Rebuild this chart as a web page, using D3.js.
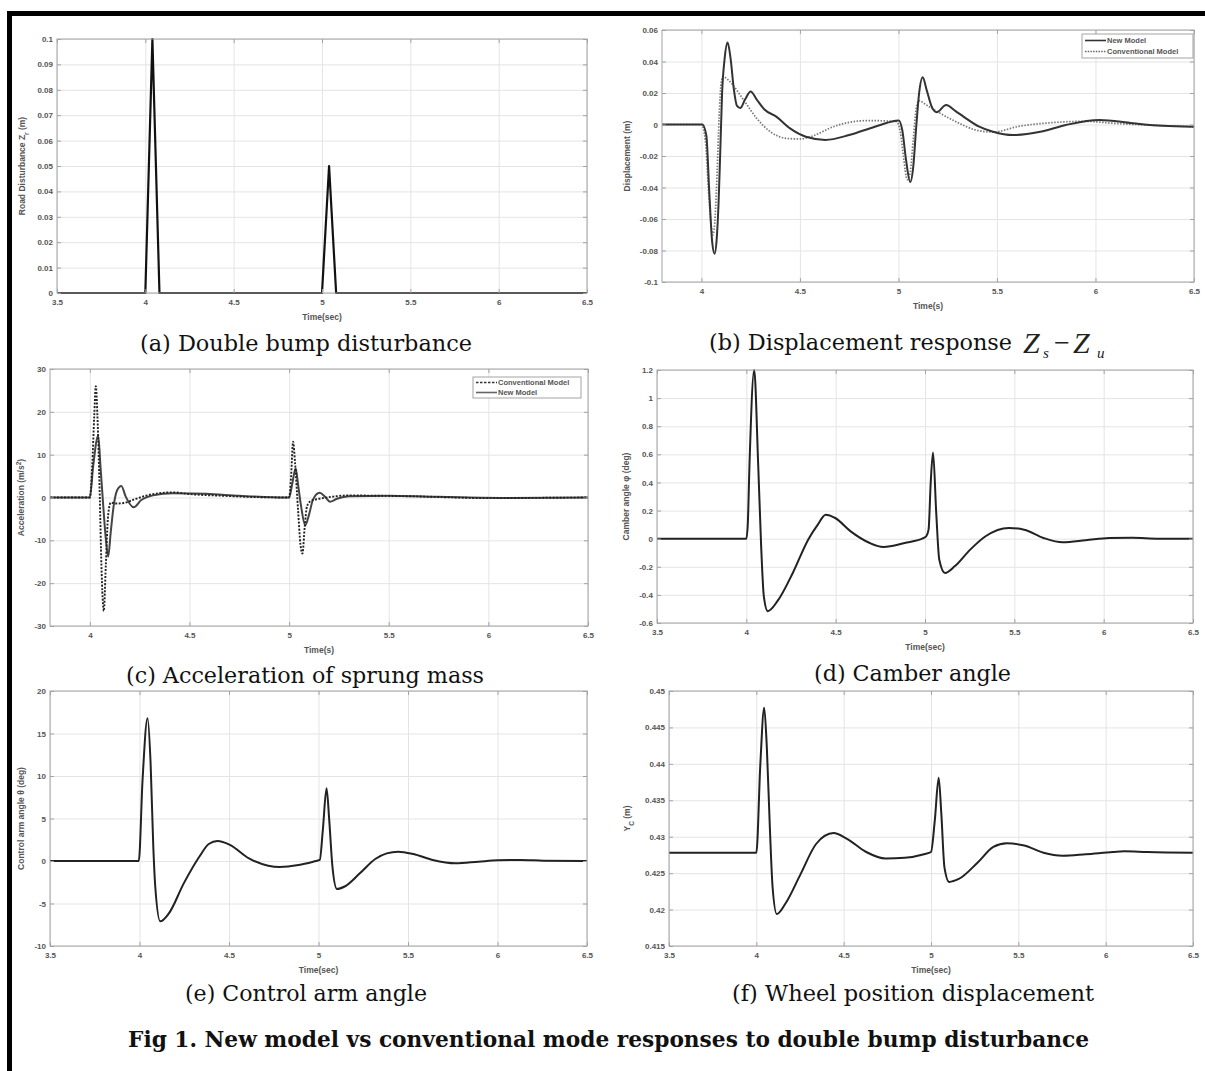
<!DOCTYPE html>
<html><head><meta charset="utf-8">
<script src="https://cdn.jsdelivr.net/npm/d3@7"></script>
<style>body{margin:0;background:#fff}svg{display:block}</style>
</head><body>
<svg id="fig" width="1205" height="1071"></svg>
<script>
// ---------------- DATA ----------------
const xTicks35 = [3.5, 4, 4.5, 5, 5.5, 6, 6.5];
const xTickLabels35 = ["3.5", "4", "4.5", "5", "5.5", "6", "6.5"];
const xTicks4 = [4, 4.5, 5, 5.5, 6, 6.5];
const xTickLabels4 = ["4", "4.5", "5", "5.5", "6", "6.5"];

// (a) road disturbance
const roadT = [3.5, 4.0, 4.04, 4.08, 5.0, 5.04, 5.08, 6.5];
const roadV = [0, 0, 0.1, 0, 0, 0.05, 0, 0];
const aYTicks = [0, 0.01, 0.02, 0.03, 0.04, 0.05, 0.06, 0.07, 0.08, 0.09, 0.1];
const aYLabels = ["0", "0.01", "0.02", "0.03", "0.04", "0.05", "0.06", "0.07", "0.08", "0.09", "0.1"];

// (b) displacement response
const dispNewT = [3.8, 4.005, 4.025, 4.04, 4.055, 4.067, 4.078, 4.087, 4.095, 4.105, 4.118, 4.133, 4.148, 4.165, 4.18, 4.197, 4.222, 4.25, 4.28, 4.32, 4.38, 4.45, 4.53, 4.63, 4.75, 4.88, 4.98, 5.002, 5.02, 5.038, 5.06, 5.075, 5.09, 5.105, 5.123, 5.143, 5.17, 5.194, 5.242, 5.29, 5.33, 5.41, 5.48, 5.58, 5.72, 5.85, 6.02, 6.19, 6.34, 6.5];
const dispNewV = [0, 0, -0.007, -0.043, -0.075, -0.082, -0.072, -0.05, -0.02, 0.02, 0.042, 0.052, 0.042, 0.022, 0.012, 0.0105, 0.016, 0.021, 0.016, 0.0095, 0.005, -0.0025, -0.0078, -0.0098, -0.0067, -0.0014, 0.0022, 0.0026, -0.004, -0.022, -0.0365, -0.027, -0.002, 0.02, 0.030, 0.022, 0.011, 0.0078, 0.0124, 0.0085, 0.005, -0.0014, -0.0046, -0.0067, -0.0046, -0.0003, 0.0029, 0.0008, -0.0008, -0.0014];
const dispConvT = [3.8, 4.0, 4.02, 4.035, 4.05, 4.06, 4.07, 4.08, 4.09, 4.1, 4.11, 4.13, 4.16, 4.22, 4.28, 4.35, 4.43, 4.5, 4.56, 4.67, 4.75, 4.85, 4.99, 5.01, 5.025, 5.045, 5.06, 5.075, 5.09, 5.104, 5.14, 5.19, 5.29, 5.39, 5.48, 5.61, 5.75, 5.95, 6.09, 6.26, 6.5];
const dispConvV = [0, 0, -0.01, -0.04, -0.065, -0.07, -0.058, -0.03, 0.005, 0.026, 0.0305, 0.029, 0.025, 0.0145, 0.004, -0.0046, -0.0088, -0.0092, -0.0075, -0.0014, 0.0014, 0.0025, 0.0018, -0.005, -0.02, -0.035, -0.03, -0.01, 0.01, 0.0152, 0.0125, 0.0087, 0.0019, -0.0034, -0.0048, -0.0012, 0.0009, 0.002, 0.0008, -0.0003, -0.0014];
const bYTicks = [-0.1, -0.08, -0.06, -0.04, -0.02, 0, 0.02, 0.04, 0.06];
const bYLabels = ["-0.1", "-0.08", "-0.06", "-0.04", "-0.02", "0", "0.02", "0.04", "0.06"];

// (c) acceleration of sprung mass
const accConvT = [3.8, 4.0, 4.012, 4.022, 4.03, 4.038, 4.05, 4.058, 4.07, 4.08, 4.092, 4.105, 4.13, 4.17, 4.22, 4.28, 4.33, 4.42, 4.5, 4.67, 4.83, 4.99, 5.0, 5.01, 5.02, 5.03, 5.045, 5.057, 5.067, 5.078, 5.09, 5.11, 5.15, 5.22, 5.3, 5.45, 5.6, 5.8, 6.0, 6.2, 6.5];
const accConvV = [0, 0, 7.5, 19, 26, 19, 0, -15.8, -26.5, -16, -4, -1.2, -1.4, -1.3, -0.5, 0.4, 0.9, 1.2, 0.8, 0.4, 0.1, 0, 0, 5, 13, 8, -3, -11, -13.1, -7, -2, -0.8, -0.3, 0.2, 0.5, 0.4, 0.3, 0.05, -0.15, -0.1, 0];
const accNewT = [3.8, 4.0, 4.017, 4.042, 4.053, 4.067, 4.08, 4.092, 4.105, 4.12, 4.137, 4.158, 4.18, 4.22, 4.258, 4.317, 4.417, 4.583, 4.75, 4.99, 5.0, 5.015, 5.033, 5.045, 5.06, 5.081, 5.1, 5.12, 5.153, 5.18, 5.205, 5.24, 5.3, 5.5, 5.7, 5.9, 6.1, 6.5];
const accNewV = [0, 0, 7.5, 14.4, 7.5, -1.8, -9.6, -13.8, -8, -1.8, 1.7, 2.7, 0.2, -2.3, -0.6, 0.5, 1.0, 0.85, 0.4, 0, 0, 3, 6.8, 3, -2, -6.5, -4, -0.5, 1.1, 0.2, -1.0, -0.3, 0.3, 0.4, 0.2, 0, -0.1, 0];
const cYTicks = [-30, -20, -10, 0, 10, 20, 30];
const cYLabels = ["-30", "-20", "-10", "0", "10", "20", "30"];

// (d) camber angle
const camT = [3.5, 4.0, 4.008, 4.018, 4.044, 4.066, 4.083, 4.098, 4.12, 4.174, 4.26, 4.346, 4.40, 4.444, 4.497, 4.584, 4.691, 4.767, 4.886, 4.993, 5.007, 5.02, 5.032, 5.045, 5.063, 5.08, 5.112, 5.166, 5.253, 5.339, 5.469, 5.555, 5.663, 5.77, 5.899, 6.03, 6.159, 6.31, 6.5];
const camV = [0, 0, 0.1, 0.54, 1.2, 0.54, -0.055, -0.41, -0.516, -0.445, -0.244, -0.007, 0.10, 0.17, 0.147, 0.052, -0.031, -0.059, -0.031, 0.005, 0.017, 0.064, 0.40, 0.613, 0.18, -0.15, -0.244, -0.197, -0.078, 0.017, 0.076, 0.064, 0.005, -0.026, -0.012, 0.005, 0.007, 0, 0];
const dYTicks = [-0.6, -0.4, -0.2, 0, 0.2, 0.4, 0.6, 0.8, 1, 1.2];
const dYLabels = ["-0.6", "-0.4", "-0.2", "0", "0.2", "0.4", "0.6", "0.8", "1", "1.2"];

// (e) control arm angle
const armT = [3.5, 3.996, 4.017, 4.045, 4.062, 4.077, 4.088, 4.116, 4.163, 4.248, 4.334, 4.387, 4.436, 4.505, 4.612, 4.719, 4.783, 4.889, 4.985, 5.007, 5.024, 5.045, 5.06, 5.078, 5.103, 5.146, 5.231, 5.317, 5.381, 5.445, 5.53, 5.638, 5.766, 5.894, 6.001, 6.13, 6.257, 6.5];
const armV = [0, 0, 9.5, 16.8, 11.5, 1.7, -3.0, -7.1, -6.2, -2.6, 0.5, 2.0, 2.35, 1.9, 0.3, -0.55, -0.7, -0.47, 0, 0.12, 3.6, 8.55, 4.8, -0.7, -3.3, -3.0, -1.45, 0.24, 0.9, 1.1, 0.82, 0.12, -0.27, -0.08, 0.08, 0.12, 0.04, 0];
const eYTicks = [-10, -5, 0, 5, 10, 15, 20];
const eYLabels = ["-10", "-5", "0", "5", "10", "15", "20"];

// (f) wheel position displacement
const ycT = [3.5, 4.0, 4.023, 4.045, 4.06, 4.078, 4.093, 4.117, 4.166, 4.254, 4.342, 4.442, 4.519, 4.629, 4.74, 4.85, 4.96, 5.0, 5.022, 5.044, 5.059, 5.077, 5.104, 5.159, 5.269, 5.357, 5.434, 5.534, 5.644, 5.754, 5.886, 6.041, 6.107, 6.239, 6.5];
const ycV = [0.4278, 0.4278, 0.44, 0.4477, 0.4423, 0.4309, 0.4231, 0.4194, 0.4208, 0.4249, 0.429, 0.4305, 0.4297, 0.4279, 0.427, 0.4271, 0.4276, 0.4279, 0.4323, 0.4381, 0.4332, 0.4258, 0.4238, 0.4242, 0.4265, 0.4286, 0.4291, 0.4288, 0.4278, 0.4274, 0.4276, 0.4279, 0.428, 0.4279, 0.4278];
const fYTicks = [0.415, 0.42, 0.425, 0.43, 0.435, 0.44, 0.445, 0.45];
const fYLabels = ["0.415", "0.42", "0.425", "0.43", "0.435", "0.44", "0.445", "0.45"];

const legendB = ["New Model", "Conventional Model"];
const legendC = ["Conventional Model", "New Model"];

// ---------------- DRAWING ----------------
const svg = d3.select('#fig');
svg.append('rect').attr('width', 1205).attr('height', 1071).attr('fill', '#fff');

// outer frame (top and left edges visible)
svg.append('rect').attr('x', 7).attr('y', 11).attr('width', 1198).attr('height', 5).attr('fill', '#000');
svg.append('rect').attr('x', 7).attr('y', 11).attr('width', 5).attr('height', 1060).attr('fill', '#000');

const zip = (t, v) => t.map((d, i) => [d, v[i]]);
const tickFont = 'Liberation Sans, Arial, sans-serif';

function panel(p) {
  const x = d3.scaleLinear().domain(p.xdom).range([p.x0, p.x1]);
  const y = d3.scaleLinear().domain(p.ydom).range([p.y1, p.y0]);
  const g = svg.append('g');
  const h = p.y1 - p.y0, w = p.x1 - p.x0;
  // grid
  g.append('g').attr('transform', `translate(0,${p.y1})`)
    .call(d3.axisBottom(x).tickValues(p.xt).tickSize(-h).tickFormat(''))
    .call(s => { s.select('.domain').remove(); s.selectAll('line').attr('stroke', '#e4e4e4'); });
  g.append('g').attr('transform', `translate(${p.x0},0)`)
    .call(d3.axisLeft(y).tickValues(p.yt).tickSize(-w).tickFormat(''))
    .call(s => { s.select('.domain').remove(); s.selectAll('line').attr('stroke', '#e4e4e4'); });
  // clip
  const cid = 'clip' + p.id;
  svg.append('clipPath').attr('id', cid).append('rect')
    .attr('x', p.x0).attr('y', p.y0 - 1).attr('width', w).attr('height', h + 2);
  const line = d3.line().x(d => x(d[0])).y(d => y(d[1])).curve(p.curve || d3.curveMonotoneX);
  p.series.forEach(s => {
    g.append('path').attr('clip-path', `url(#${cid})`)
      .attr('d', line(s.data)).attr('fill', 'none')
      .attr('stroke', s.color).attr('stroke-width', s.width)
      .attr('stroke-dasharray', s.dash || null).attr('stroke-linejoin', 'round');
  });
  // box
  g.append('rect').attr('x', p.x0).attr('y', p.y0).attr('width', w).attr('height', h)
    .attr('fill', 'none').attr('stroke', '#a3a3a3').attr('stroke-width', 1);
  // axes with inward ticks
  const styleAx = s => {
    s.select('.domain').remove();
    s.selectAll('line').attr('stroke', '#a3a3a3');
    s.selectAll('text').attr('font-family', tickFont).attr('font-size', 8)
      .attr('font-weight', 'bold').attr('fill', '#555');
  };
  g.append('g').attr('transform', `translate(0,${p.y1})`)
    .call(d3.axisBottom(x).tickValues(p.xt).tickSizeInner(-4).tickSizeOuter(0).tickPadding(6)
      .tickFormat((d, i) => p.xl[i])).call(styleAx);
  g.append('g').attr('transform', `translate(0,${p.y0})`)
    .call(d3.axisTop(x).tickValues(p.xt).tickSizeInner(-4).tickSizeOuter(0).tickFormat(''))
    .call(styleAx);
  g.append('g').attr('transform', `translate(${p.x0},0)`)
    .call(d3.axisLeft(y).tickValues(p.yt).tickSizeInner(-4).tickSizeOuter(0).tickPadding(4)
      .tickFormat((d, i) => p.yl[i])).call(styleAx);
  g.append('g').attr('transform', `translate(${p.x1},0)`)
    .call(d3.axisRight(y).tickValues(p.yt).tickSizeInner(-4).tickSizeOuter(0).tickFormat(''))
    .call(styleAx);
  // x label
  g.append('text').attr('x', (p.x0 + p.x1) / 2).attr('y', p.y1 + 27)
    .attr('text-anchor', 'middle').attr('font-family', tickFont).attr('font-size', 8.5)
    .attr('font-weight', 'bold').attr('fill', '#555').text(p.xlabel);
  // y label
  const yl = g.append('text').attr('transform', `translate(${p.ylx},${(p.y0 + p.y1) / 2}) rotate(-90)`)
    .attr('text-anchor', 'middle').attr('font-family', tickFont).attr('font-size', 8.5)
    .attr('font-weight', 'bold').attr('fill', '#555');
  p.ylabel.forEach(part => {
    const ts = yl.append('tspan').text(part.t);
    if (part.sub) ts.attr('baseline-shift', 'sub').attr('font-size', 6.5);
    if (part.sup) ts.attr('baseline-shift', 'super').attr('font-size', 6.5);
  });
  // legend
  if (p.legend) {
    const L = p.legend;
    const lg = g.append('g');
    lg.append('rect').attr('x', L.x).attr('y', L.y).attr('width', L.w).attr('height', L.h)
      .attr('fill', '#fff').attr('stroke', '#a3a3a3');
    L.items.forEach((it, i) => {
      const yy = L.y + L.rowY[i];
      lg.append('line').attr('x1', L.x + 3).attr('x2', L.x + L.sample).attr('y1', yy).attr('y2', yy)
        .attr('stroke', it.color).attr('stroke-width', it.width).attr('stroke-dasharray', it.dash || null);
      lg.append('text').attr('x', L.x + L.sample + 1).attr('y', yy + 2.8)
        .attr('font-family', tickFont).attr('font-size', 7.5).attr('font-weight', 'bold')
        .attr('fill', '#555').text(it.label);
    });
  }
}

// (a)
panel({ id: 'a', x0: 57, x1: 587, y0: 39, y1: 293, xdom: [3.5, 6.5], ydom: [0, 0.1],
  xt: xTicks35, xl: xTickLabels35, yt: aYTicks, yl: aYLabels, xlabel: 'Time(sec)', ylx: 25,
  ylabel: [{ t: 'Road Disturbance Z' }, { t: 'r', sub: true }, { t: ' (m)' }],
  curve: d3.curveLinear,
  series: [{ data: zip(roadT, roadV), color: '#111', width: 2.2 }] });

// (b)
panel({ id: 'b', x0: 662, x1: 1194, y0: 30, y1: 282, xdom: [3.8, 6.5], ydom: [-0.1, 0.06],
  xt: xTicks4, xl: xTickLabels4, yt: bYTicks, yl: bYLabels, xlabel: 'Time(s)', ylx: 630,
  ylabel: [{ t: 'Displacement (m)' }],
  series: [
    { data: zip(dispConvT, dispConvV), color: '#777', width: 1.7, dash: '1.5,1.5' },
    { data: zip(dispNewT, dispNewV), color: '#333', width: 2 }],
  legend: { x: 1082, y: 34, w: 111, h: 24, sample: 24, rowY: [6.5, 17.5],
    items: [{ label: legendB[0], color: '#333', width: 1.6 },
            { label: legendB[1], color: '#666', width: 1.6, dash: '1.5,1.2' }] } });

// (c)
panel({ id: 'c', x0: 50, x1: 588, y0: 369, y1: 626, xdom: [3.8, 6.5], ydom: [-30, 30],
  xt: xTicks4, xl: xTickLabels4, yt: cYTicks, yl: cYLabels, xlabel: 'Time(s)', ylx: 24,
  ylabel: [{ t: 'Acceleration (m/s' }, { t: '2', sup: true }, { t: ')' }],
  series: [
    { data: zip(accNewT, accNewV), color: '#444', width: 2 },
    { data: zip(accConvT, accConvV), color: '#222', width: 1.9, dash: '2,1.5' }],
  legend: { x: 473, y: 377, w: 108, h: 21, sample: 24, rowY: [5.5, 15.5],
    items: [{ label: legendC[0], color: '#333', width: 1.5, dash: '2.5,1.5' },
            { label: legendC[1], color: '#666', width: 1.6 }] } });

// (d)
panel({ id: 'd', x0: 657, x1: 1193, y0: 370, y1: 623, xdom: [3.5, 6.5], ydom: [-0.6, 1.2],
  xt: xTicks35, xl: xTickLabels35, yt: dYTicks, yl: dYLabels, xlabel: 'Time(sec)', ylx: 629,
  ylabel: [{ t: 'Camber angle \u03C6 (deg)' }],
  series: [{ data: zip(camT, camV), color: '#222', width: 2 }] });

// (e)
panel({ id: 'e', x0: 50, x1: 587, y0: 691, y1: 946, xdom: [3.5, 6.5], ydom: [-10, 20],
  xt: xTicks35, xl: xTickLabels35, yt: eYTicks, yl: eYLabels, xlabel: 'Time(sec)', ylx: 24,
  ylabel: [{ t: 'Control arm angle \u03B8 (deg)' }],
  series: [{ data: zip(armT, armV), color: '#222', width: 2 }] });

// (f)
panel({ id: 'f', x0: 669, x1: 1193, y0: 691, y1: 946, xdom: [3.5, 6.5], ydom: [0.415, 0.45],
  xt: xTicks35, xl: xTickLabels35, yt: fYTicks, yl: fYLabels, xlabel: 'Time(sec)', ylx: 630,
  ylabel: [{ t: 'Y' }, { t: 'C', sub: true }, { t: ' (m)' }],
  series: [{ data: zip(ycT, ycV), color: '#222', width: 2 }] });

// ---------------- CAPTIONS ----------------
const capFont = '"DejaVu Serif Condensed", "DejaVu Serif", serif';
function caption(txt, x0, width, baseline, opts = {}) {
  const t = svg.append('text').attr('x', x0).attr('y', baseline)
    .attr('font-family', capFont).attr('font-size', opts.size || 22.5)
    .attr('font-weight', opts.bold ? 'bold' : 'normal').attr('fill', '#111').text(txt);
  t.attr('textLength', width).attr('lengthAdjust', 'spacingAndGlyphs');
  return t;
}
caption('(a) Double bump disturbance', 140, 332, 351);
caption('(b) Displacement response', 709, 303, 349.5);
caption('(c) Acceleration of sprung mass', 126, 358, 683);
caption('(d) Camber angle', 814, 197, 681);
caption('(e) Control arm angle', 185, 242, 1001);
caption('(f) Wheel position displacement', 732, 362, 1001);
caption('Fig 1. New model vs conventional mode responses to double bump disturbance', 128, 961, 1046.5, { bold: true, size: 23 });

// math part of (b) caption: Z_s - Z_u
const mathFont = 'Liberation Serif, Times New Roman, serif';
const m = svg.append('g').attr('font-family', mathFont).attr('fill', '#222');
m.append('text').attr('x', 1023).attr('y', 353).attr('font-size', 30).attr('font-style', 'italic').text('Z');
m.append('text').attr('x', 1043).attr('y', 358).attr('font-size', 15).attr('font-style', 'italic').text('s');
m.append('text').attr('x', 1054).attr('y', 352).attr('font-size', 28).text('\u2212');
m.append('text').attr('x', 1073).attr('y', 353).attr('font-size', 30).attr('font-style', 'italic').text('Z');
m.append('text').attr('x', 1097).attr('y', 358).attr('font-size', 15).attr('font-style', 'italic').text('u');
</script>
</body></html>
